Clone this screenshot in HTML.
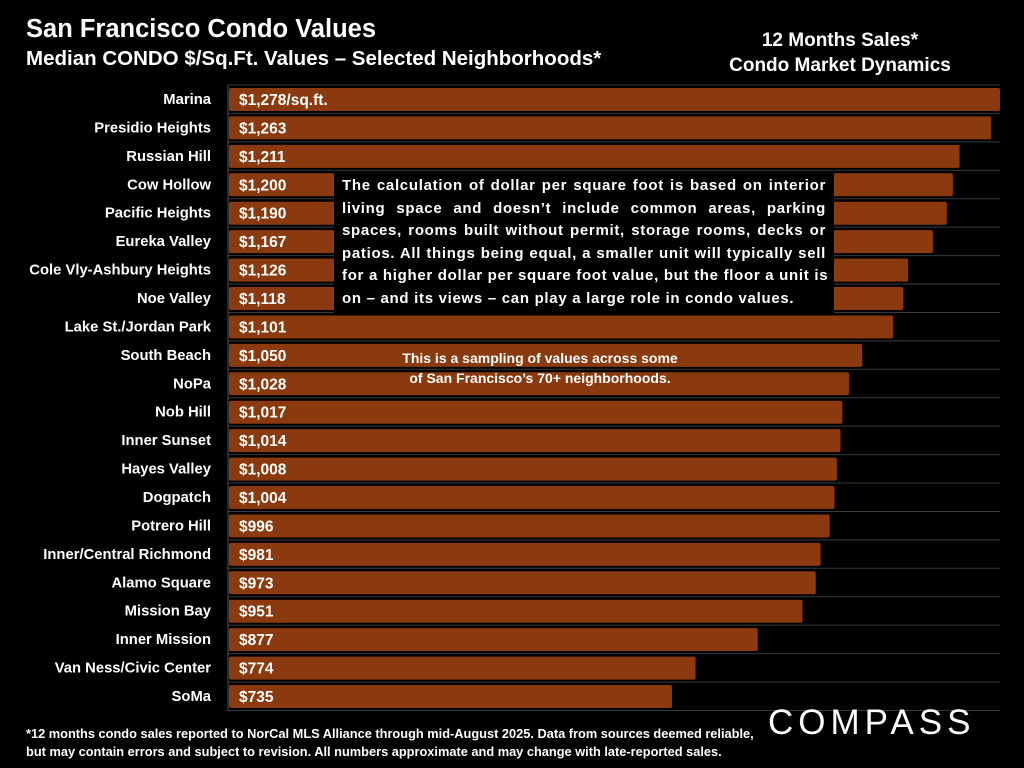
<!DOCTYPE html>
<html><head><meta charset="utf-8"><style>
body{margin:0;width:1024px;height:768px;background:#000;overflow:hidden;font-family:"Liberation Sans",Arial,sans-serif;color:#fff}
.t{position:absolute;font-weight:bold}
.j span{display:block;text-align:justify;text-align-last:justify;white-space:nowrap}
</style></head><body>
<div class="t" style="left:26px;top:15px;font-size:25.5px">San Francisco Condo Values</div>
<div class="t" style="left:26px;top:47px;font-size:20.5px">Median CONDO $/Sq.Ft. Values – Selected Neighborhoods*</div>
<div class="t" style="left:690px;top:28px;width:300px;text-align:center;font-size:19px;line-height:25px">12 Months Sales*<br>Condo Market Dynamics</div>
<svg id="chart" width="1024" height="768" style="position:absolute;left:0;top:0"></svg>
<div class="t j" style="left:334px;top:172px;width:484px;height:136px;padding:3px 8px;background:#000;font-size:15px;letter-spacing:0.7px;line-height:22.6px">
<span>The calculation of dollar per square foot is based on interior</span>
<span>living space and doesn’t include common areas, parking</span>
<span>spaces, rooms built without permit, storage rooms, decks or</span>
<span>patios. All things being equal, a smaller unit will typically sell</span>
<span>for a higher dollar per square foot value, but the floor a unit is</span>
<span style="text-align-last:left">on – and its views – can play a large role in condo values.</span>
</div>
<div class="t" style="left:340px;top:348px;width:400px;text-align:center;font-size:14px;line-height:20px">This is a sampling of values across some<br>of San Francisco’s 70+ neighborhoods.</div>
<div class="t" style="left:26px;top:725px;font-size:12.8px;line-height:18px">*12 months condo sales reported to NorCal MLS Alliance through mid-August 2025. Data from sources deemed reliable,<br>but may contain errors and subject to revision. All numbers approximate and may change with late-reported sales.</div>
<div style="position:absolute;left:768px;top:703px;font-size:35px;letter-spacing:5px;font-family:'Liberation Sans',sans-serif">COMPASS</div>
<script>
const neighborhoods=["Marina","Presidio Heights","Russian Hill","Cow Hollow","Pacific Heights","Eureka Valley","Cole Vly-Ashbury Heights","Noe Valley","Lake St./Jordan Park","South Beach","NoPa","Nob Hill","Inner Sunset","Hayes Valley","Dogpatch","Potrero Hill","Inner/Central Richmond","Alamo Square","Mission Bay","Inner Mission","Van Ness/Civic Center","SoMa"];
const values=[1278,1263,1211,1200,1190,1167,1126,1118,1101,1050,1028,1017,1014,1008,1004,996,981,973,951,877,774,735];
const svg=document.getElementById('chart'),NS='http://www.w3.org/2000/svg';
const x0=228,x1=1000,y0=85,pitch=28.43;
const xs=v=>x0+(v/1278)*(x1-x0);
const ys=i=>y0+i*pitch;
function mk(t,a){const e=document.createElementNS(NS,t);for(const k in a)e.setAttribute(k,a[k]);svg.appendChild(e);return e;}
for(let i=0;i<=neighborhoods.length;i++){
 const g=mk('line',{x1:x0,x2:x1,y1:ys(i),y2:ys(i),stroke:'#3a3a3a','stroke-width':1});
 
 
}
const ax=mk('line',{x1:x0,x2:x0,y1:y0,y2:ys(neighborhoods.length),stroke:'#555'});


neighborhoods.forEach((n,i)=>{
 const b=mk('rect',{x:x0+1,y:ys(i)+3,width:xs(values[i])-x0-1,height:23,fill:'#8a3a0e',rx:2});
 
 
 const l=mk('text',{x:211,y:ys(i)+19,'text-anchor':'end','font-size':14.8,'font-weight':'bold',fill:'#fff','font-family':'Liberation Sans,Arial,sans-serif'});
 l.textContent=n;
 
 
 const v=mk('text',{x:239,y:ys(i)+20,'font-size':15.5,'font-weight':'bold',fill:'#fff','font-family':'Liberation Sans,Arial,sans-serif'});
 v.textContent='$'+values[i].toLocaleString('en-US')+(i===0?'/sq.ft.':'');
 
 
});
</script>
</body></html>
